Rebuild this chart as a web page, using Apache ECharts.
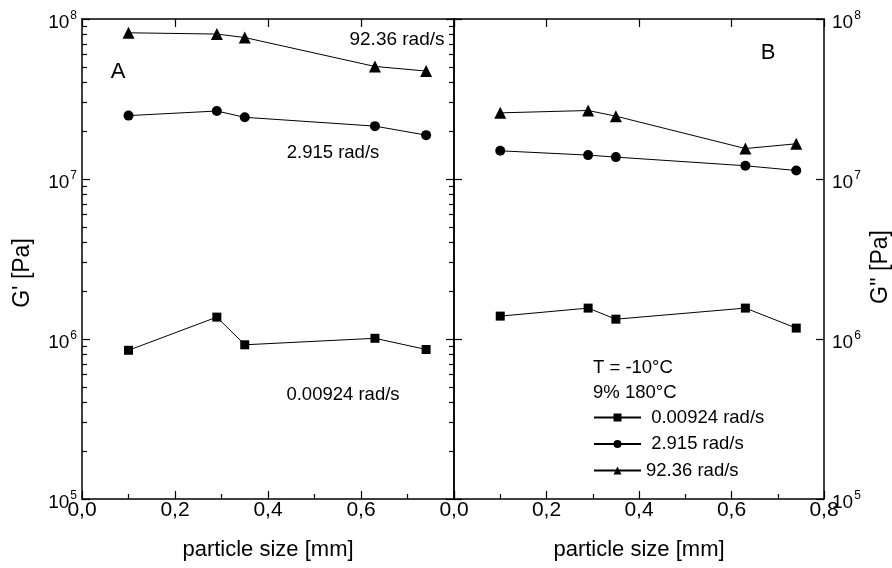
<!DOCTYPE html>
<html><head><meta charset="utf-8">
<script src="https://cdn.jsdelivr.net/npm/echarts@6/dist/echarts.min.js"></script>
<style>html,body{margin:0;padding:0;background:#fff}#c{width:892px;height:568px}</style>
</head><body><div id="c"></div>
<script>
// ---- data ----
const particleSize = [0.10, 0.29, 0.35, 0.63, 0.74];
const seriesNames = ['0.00924 rad/s', '2.915 rad/s', '92.36 rad/s'];
const gPrime_00924 = [8.5e5, 1.37e6, 9.2e5, 1.01e6, 8.6e5];
const gPrime_2915 = [2.49e7, 2.66e7, 2.43e7, 2.14e7, 1.88e7];
const gPrime_9236 = [8.2e7, 8.05e7, 7.66e7, 5.05e7, 4.73e7];
const gDouble_00924 = [1.39e6, 1.56e6, 1.33e6, 1.56e6, 1.17e6];
const gDouble_2915 = [1.50e7, 1.41e7, 1.37e7, 1.21e7, 1.13e7];
const gDouble_9236 = [2.59e7, 2.68e7, 2.47e7, 1.55e7, 1.66e7];
const xTickLabels = ['0,0', '0,2', '0,4', '0,6', '0,8'];
const yDecades = [1e5, 1e6, 1e7, 1e8];
const symbols = ['rect', 'circle', 'triangle'];
const symbolSizes = [9, 10, 12];

const FONT = "'Liberation Sans', Arial, Helvetica, sans-serif";
const minorVals = [];
for (let d = 0; d < yDecades.length - 1; d++) for (let k = 2; k <= 9; k++) minorVals.push(yDecades[d] * k);

const chart = echarts.init(document.getElementById('c'), null, {renderer: 'canvas'});
const lineW = 1.5;
const xLabelFmt = v => xTickLabels[Math.round(v / 0.2)];
const yLabelFmt = v => '{b|10}{s|' + Math.round(Math.log10(v)) + '}';
const yRich = {
  b: {fontSize: 19, fontFamily: FONT, color: '#000', padding: [7, 0, 0, 0], verticalAlign: 'bottom'},
  s: {fontSize: 12, fontFamily: FONT, color: '#000', padding: [4, 0, 0, 1], verticalAlign: 'top'}
};

function xAx(grid, pos, labels, showMax) {
  return {
    type: 'value', gridIndex: grid, position: pos, min: 0, max: 0.8, interval: 0.2,
    axisLine: {show: true, onZero: false, lineStyle: {color: '#000', width: lineW}},
    axisTick: {show: true, inside: true, length: 8, lineStyle: {color: '#000', width: 1.2}},
    minorTick: {show: pos === 'bottom', splitNumber: 2, length: 5, lineStyle: {color: '#000', width: 1.2}},
    axisLabel: {show: labels, margin: 1, showMaxLabel: showMax, showMinLabel: true, formatter: xLabelFmt,
      fontSize: 21, fontFamily: FONT, color: '#000'},
    splitLine: {show: false},
    name: labels ? 'particle size [mm]' : '', nameLocation: 'middle', nameGap: 40,
    nameTextStyle: {fontSize: 22, fontFamily: FONT, color: '#000'}
  };
}
function yAx(grid, pos, opts) {
  return Object.assign({
    type: 'log', logBase: 10, gridIndex: grid, position: pos, min: 1e5, max: 1e8, splitNumber: 3,
    axisLine: {show: true, onZero: false, lineStyle: {color: '#000', width: lineW}},
    axisTick: {show: true, inside: true, length: 8, lineStyle: {color: '#000', width: 1.2}},
    axisLabel: {show: false},
    splitLine: {show: false}
  }, opts);
}

const txt = (x, y, text, size, align, rot) => ({
  type: 'text', x: x, y: y, rotation: rot || 0,
  style: {text: text, fontSize: size, fontFamily: FONT, fill: '#000', align: align || 'center', verticalAlign: 'middle'}
});

const option = {
  backgroundColor: '#fff',
  animation: false,
  grid: [
    {left: 82, right: 438, top: 19, bottom: 69},
    {left: 454, right: 68, top: 19, bottom: 69}
  ],
  xAxis: [
    xAx(0, 'bottom', true, false),
    xAx(0, 'top', false, false),
    xAx(1, 'bottom', true, true),
    xAx(1, 'top', false, false)
  ],
  yAxis: [
    yAx(0, 'left', {axisLabel: {show: true, margin: 5, formatter: yLabelFmt, rich: yRich}}),
    yAx(0, 'left', {axisLine: {show: false}, axisTick: {show: true, inside: true, length: 5, customValues: minorVals, lineStyle: {color: '#000', width: 1.2}}}),
    yAx(0, 'right', {}),
    yAx(1, 'left', {}),
    yAx(1, 'right', {axisLabel: {show: true, margin: 8, formatter: yLabelFmt, rich: yRich}}),
    yAx(1, 'right', {axisLine: {show: false}, axisTick: {show: true, inside: true, length: 5, customValues: minorVals, lineStyle: {color: '#000', width: 1.2}}})
  ],
  legend: {
    orient: 'vertical', left: 593, top: 408, padding: 0, itemWidth: 47, itemHeight: 10, itemGap: 7.5,
    data: seriesNames,
    formatter: n => (n === seriesNames[2] ? n : ' ' + n),
    textStyle: {fontSize: 18.5, fontFamily: FONT, color: '#000'}
  },
  series: [],
  graphic: [
    txt(397, 40, '92.36 rad/s', 19),
    txt(333, 153, '2.915 rad/s', 18.5),
    txt(343, 395, '0.00924 rad/s', 18.5),
    txt(118, 72, 'A', 22),
    txt(768, 53, 'B', 22),
    txt(593, 368, 'T = -10°C', 18.5, 'left'),
    txt(593, 393, '9% 180°C', 18.5, 'left'),
    txt(23, 273, "G' [Pa]", 23, 'center', Math.PI / 2),
    txt(881, 267, "G'' [Pa]", 23, 'center', Math.PI / 2)
  ]
};

const leftData = [gPrime_00924, gPrime_2915, gPrime_9236];
const rightData = [gDouble_00924, gDouble_2915, gDouble_9236];
function mkSeries(i, vals, xi, yi) {
  return {
    type: 'line', name: seriesNames[i], xAxisIndex: xi, yAxisIndex: yi,
    data: particleSize.map((x, j) => [x, vals[j]]),
    symbol: symbols[i], symbolSize: symbolSizes[i], showSymbol: true,
    itemStyle: {color: '#000'}, lineStyle: {color: '#000', width: 1},
    emphasis: {disabled: true}, z: 3
  };
}
for (let i = 0; i < 3; i++) option.series.push(mkSeries(i, leftData[i], 0, 0));
for (let i = 0; i < 3; i++) option.series.push(mkSeries(i, rightData[i], 2, 4));
chart.setOption(option);
</script></body></html>
